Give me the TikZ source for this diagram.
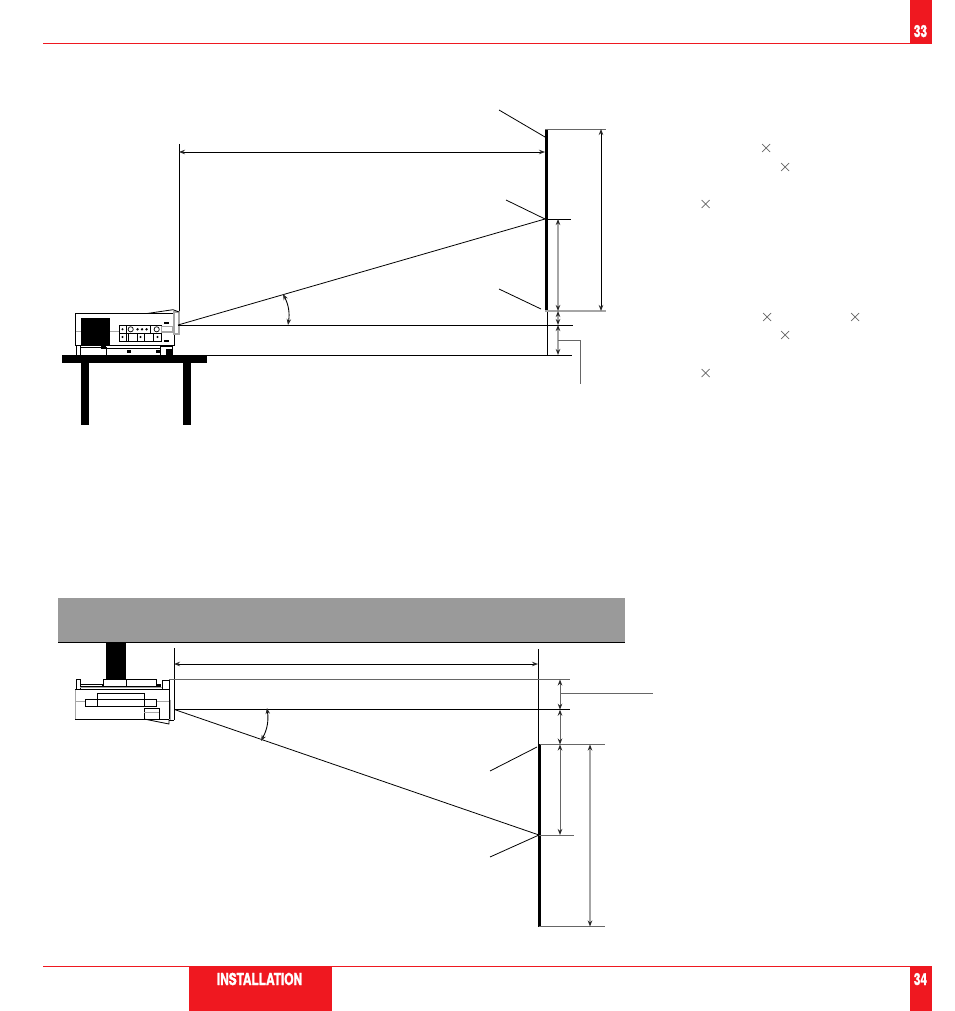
\documentclass[tikz,border=0pt]{standalone}
\usepackage{fontspec}
\setmainfont{TeX Gyre Heros}
\newfontfamily\tabfont[FakeStretch=0.72,FakeBold=1.6]{TeX Gyre Heros}
\usetikzlibrary{arrows.meta}
\definecolor{tabred}{HTML}{EF1820}
\definecolor{bandgray}{HTML}{9A9A9A}
\definecolor{softgray}{HTML}{A6A6A6}
\definecolor{leadgray}{HTML}{666666}
\tikzset{
  thin line/.style={black,line width=0.8pt},
  gray line/.style={softgray,line width=1.1pt},
  dim/.style={line width=0.9pt,{Stealth[length=6pt,width=4.5pt,color=black!85]}-{Stealth[length=6pt,width=4.5pt,color=black!85]}},
  leader/.style={leadgray,line width=0.9pt},
  panel/.style={black,line width=0.8pt,fill=white},
  solid block/.style={fill=black,draw=none},
  red rule/.style={tabred,line width=1pt},
  red tab/.style={fill=tabred,draw=none},
  tabtext/.style={text=white,font=\tabfont\bfseries\fontsize{16.5}{16.5}\selectfont,inner sep=0pt,anchor=base},
  xmark/.style={leadgray,line width=0.7pt},
}
\begin{document}
\begin{tikzpicture}[x=1pt,y=-1pt]
\useasboundingbox (0,0) rectangle (954,1011);
\fill[white] (0,0) rectangle (954,1011);

% page furniture
\draw[red rule] (43,43.5) -- (932,43.5);
\draw[red rule] (43,966.5) -- (932,966.5);
\fill[red tab] (910,0) rectangle (932,44);
\fill[red tab] (910,966) rectangle (932,1011);
\fill[red tab] (189,966) rectangle (332,1011);
\node[tabtext] (pagetop) at (920.5,37) {33};
\node[tabtext] (pagebottom) at (920.5,985) {34};
\node[tabtext] (section) at (259.5,985) {INSTALLATION};

% ---- top diagram: table
\fill[solid block] (62,355) rectangle (207,362.5);
\fill[solid block] (81,362) rectangle (89,424.5);
\fill[solid block] (183,362) rectangle (191,424.5);

% top projector
\draw[panel] (75.5,313.5) rectangle (174,345);
\draw[softgray,line width=1pt] (75.5,331.7) -- (119,331.7) (161,331.7) -- (174,331.7);
\fill[solid block] (81,318) rectangle (110,345.5);
\draw[panel] (119,325) rectangle (161.5,341);
\draw[black,line width=0.7pt] (119,333) -- (161.5,333);
\draw[black,line width=0.7pt] (126,325) -- (126,341) (150,325) -- (150,333) (128,333) -- (128,341) (137,333) -- (137,341) (144,333) -- (144,341) (153,333) -- (153,341);
\draw[black,line width=0.7pt] (130.7,329.3) circle (2.6) (156.7,329.3) circle (2.6);
\foreach \dx in {137.5,142,146.5} \fill (\dx,329.3) circle (1.3);
\fill (122.5,329.3) circle (1.1) (122.5,337) circle (1.1) (140.5,337) circle (1.1) (157.5,337) circle (1.1);
\draw[softgray,line width=0.8pt] (161.5,326) rectangle (172,332);
\fill[solid block] (163.5,321.5) rectangle (168.5,323.5);
\fill[solid block] (163.5,340) rectangle (168.5,342);
\draw[softgray,line width=1.1pt] (174,312) rectangle (179,334);
\draw[black,line width=0.8pt] (147,313.5) -- (173,309.7) -- (179,312);
\draw[black,line width=0.7pt] (76.5,345) rectangle (80,355);
\draw[black,line width=0.7pt] (80,347.5) rectangle (106,355);
\draw[black,line width=0.7pt] (106,348) rectangle (160,355);
\draw[black,line width=0.7pt] (160,346.5) rectangle (172,355);
\fill[solid block] (101,346) rectangle (106,348.5);
\fill[solid block] (127,350) rectangle (131,353);
\fill[solid block] (156,350) rectangle (160,353);
\fill[solid block] (166,349) rectangle (172,355);

% top lines
\coordinate (tlens) at (178,325);
\coordinate (tcentre) at (545,219);
\draw[thin line] (tlens) -- (tcentre);
\draw[thin line] (tlens) -- (573,325);
\draw[thin line] (207,355.5) -- (572,355.5);
\draw[thin line] (179,144) -- (179,311);
\draw[dim] (179,152) -- (545,152);
\draw[black,line width=3pt] (546,129) -- (546,311);
\draw[thin line] (547.5,311) -- (547.5,355);
\draw[leader] (545,129) -- (606,129);
\draw[gray line] (545,311) -- (606,311);
\draw[thin line] (tcentre) -- (571,219);
\draw[thin line] (499,110) -- (545,137);
\draw[thin line] (506,200) -- (tcentre);
\draw[thin line] (499,289) -- (541,309);
\draw[dim,black] (601,129) -- (601,311);
\draw[dim,softgray,line width=1.1pt] (558,219) -- (558,311);
\draw[dim,softgray,line width=1.1pt] (558,311) -- (558,325);
\draw[dim,softgray,line width=1.1pt] (558,325) -- (558,355);
\draw[leader] (558,340.5) -- (580,340.5) -- (580,384);
\draw[dim] (283,294) to[bend left=18] (288,325);

% ---- bottom diagram: ceiling
\fill[bandgray] (58,598) rectangle (625,642);
\draw[thin line] (58,642.3) -- (625,642.3);
\fill[solid block] (106,642) rectangle (126,680);

% bottom projector
\draw[black,line width=0.7pt] (76,679) rectangle (80,689);
\draw[black,line width=0.7pt] (80,684) -- (103,684) (80,686) -- (103,686);
\draw[panel] (103,679.5) rectangle (156,686.5);
\draw[black,line width=0.7pt] (126,679.5) -- (126,686.5);
\draw[softgray,line width=1pt] (80,687.5) -- (162,687.5);
\draw[panel] (162,680) rectangle (169,689);
\fill[solid block] (102,684) rectangle (104,686.5);
\fill[solid block] (156,684) rectangle (161,686.5);
\draw[black,line width=0.8pt] (75,689.5) -- (169,689.5) -- (169,719);
\draw[softgray,line width=1pt] (75,689.5) -- (75,719);
\draw[black,line width=0.8pt] (75,719) -- (169,719);
\draw[softgray,line width=1pt] (75,701.7) -- (85,701.7) (156,701.7) -- (169,701.7);
\draw[panel] (97,693.5) rectangle (144,699.5);
\draw[panel] (85,699.5) rectangle (156,706.5);
\draw[black,line width=0.7pt] (97,693.5) -- (97,706.5) (144,693.5) -- (144,706.5);
\draw[panel] (144,708) rectangle (159,719);
\draw[softgray,line width=0.9pt] (144,712) -- (159,712);
\draw[black,line width=0.8pt] (144,719) -- (169,724) -- (169,719);
\draw[softgray,line width=1.1pt] (170.5,699.5) -- (170.5,720);
\draw[black,line width=0.8pt] (169,720) -- (174,720);

% bottom lines
\coordinate (blens) at (175,709.7);
\coordinate (bcentre) at (539,835);
\draw[thin line] (174,648) -- (174,720);
\draw[dim] (174,664) -- (538,664);
\draw[thin line] (538.5,649) -- (538.5,745);
\draw[black,line width=3pt] (539.5,744) -- (539.5,926.5);
\draw[leader] (169,679.3) -- (570,679.3);
\draw[thin line] (blens) -- (570,709.7);
\draw[thin line] (blens) -- (bcentre);
\draw[dim] (267,708) to[bend left=18] (261,741);
\draw[leader] (540,744.5) -- (605,744.5);
\draw[leader] (539,926.5) -- (605,926.5);
\draw[leader] (539,835) -- (574,835);
\draw[thin line] (490,771) -- (537,747);
\draw[thin line] (490,857) -- (bcentre);
\draw[leader] (560,693) -- (653,693);
\draw[dim,leadgray] (560,679.5) -- (560,709.7);
\draw[dim,leadgray] (560,709.7) -- (560,744.5);
\draw[dim,leadgray] (560,744.5) -- (560,835);
\draw[dim,softgray,line width=1.1pt] (590,744.5) -- (590,926.5);

% multiplication signs
\foreach \mx/\my in {766/148,785/167,705.5/204,767/317,855/317,785/335,705.5/373}
  \draw[xmark] (\mx-4,\my-4) -- (\mx+4,\my+4) (\mx-4,\my+4) -- (\mx+4,\my-4);
\end{tikzpicture}
\end{document}
